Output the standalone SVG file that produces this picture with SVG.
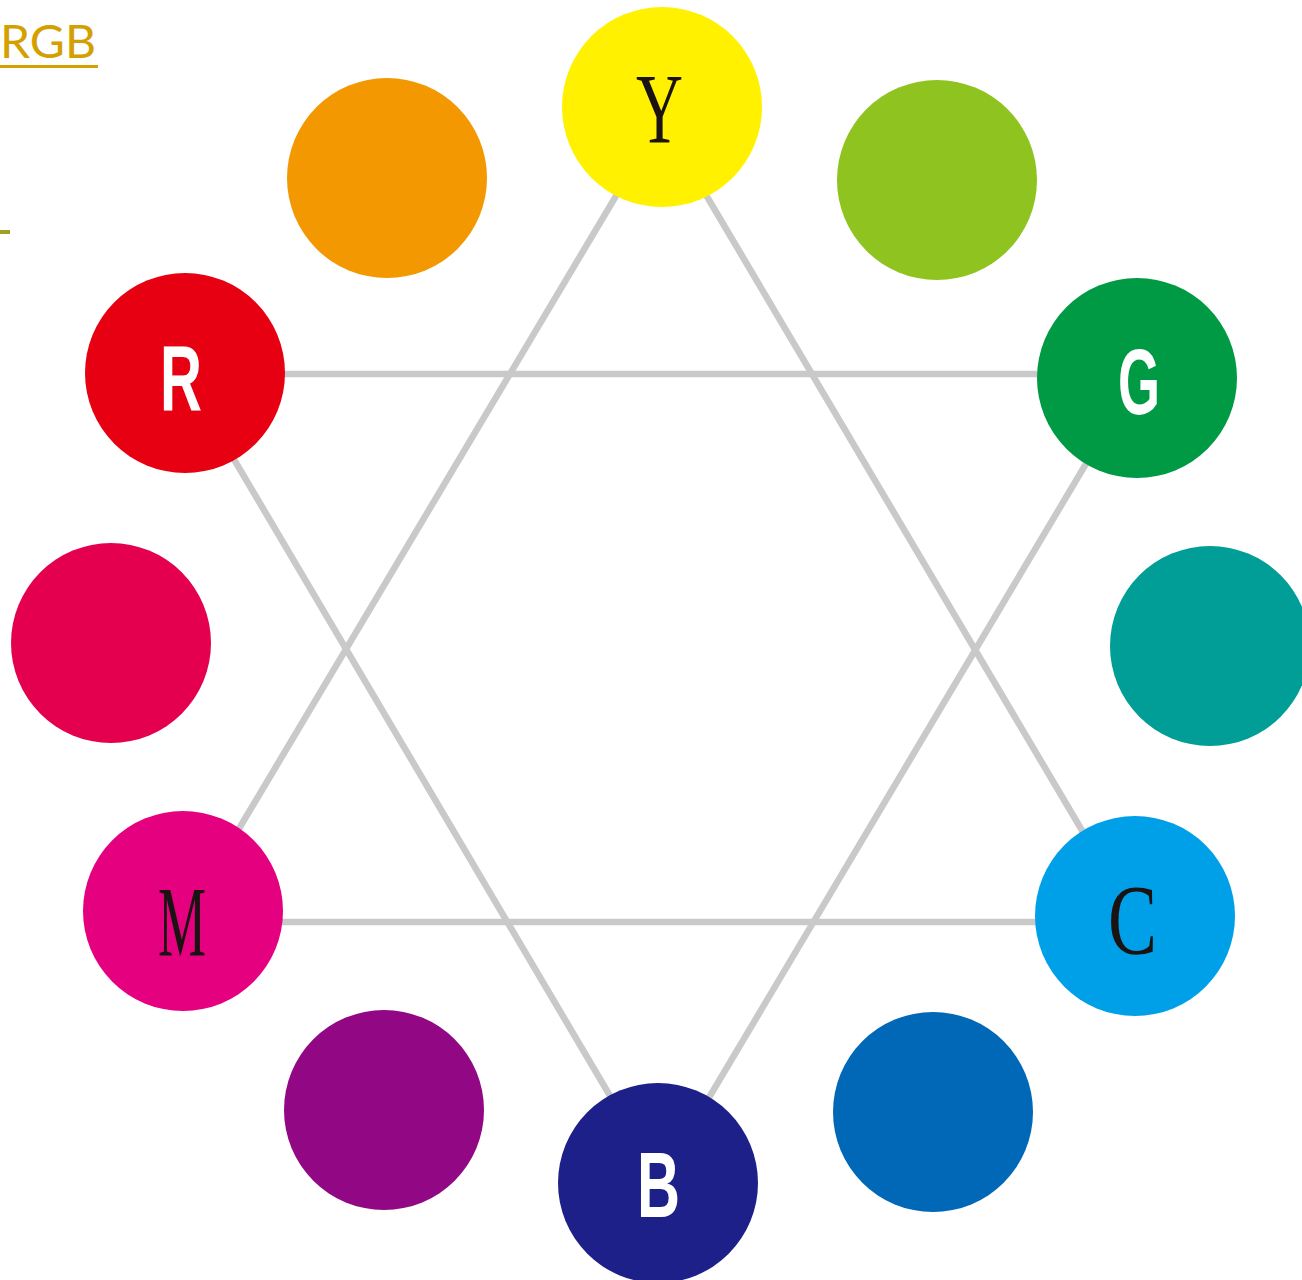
<svg xmlns="http://www.w3.org/2000/svg" width="1302" height="1280" viewBox="0 0 1302 1280">
<style>
.ln{stroke:#c9c9c9;stroke-width:6.5;fill:none}
.serif{font-family:"Liberation Serif","Times New Roman",serif;font-size:100px;fill:#1a1311}
.sans{font-family:"Liberation Sans",Arial,sans-serif;font-weight:bold;font-size:92px;fill:#ffffff}
</style>
<rect width="1302" height="1280" fill="#ffffff"/>
<g id="title">
<text x="0" y="58" font-family="Lato,'Open Sans',sans-serif" font-size="47" fill="#d4a000" textLength="96" lengthAdjust="spacingAndGlyphs">RGB</text>
<rect x="0" y="65" width="98" height="3" fill="#d4a000"/>
<rect x="0" y="230" width="10" height="4" fill="#a0a020"/>
</g>
<g id="connectors">
<line class="ln" x1="200" y1="374" x2="1130" y2="374"/>
<line class="ln" x1="190" y1="922" x2="1130" y2="922"/>
<line class="ln" x1="669" y1="107" x2="190" y2="911"/>
<line class="ln" x1="654" y1="107" x2="1135" y2="920"/>
<line class="ln" x1="183" y1="373" x2="655" y2="1172"/>
<line class="ln" x1="1137" y1="378" x2="660" y2="1180"/>
</g>
<g id="node-Y"><circle cx="662" cy="107" r="100" fill="#fff100"/><text class="serif" x="636" y="142" textLength="47" lengthAdjust="spacingAndGlyphs">Y</text></g>
<g id="node-orange"><circle cx="387" cy="178" r="100" fill="#f39800"/></g>
<g id="node-yellowgreen"><circle cx="937" cy="180" r="100" fill="#8fc31f"/></g>
<g id="node-R"><circle cx="185" cy="373" r="100" fill="#e60012"/><text class="sans" x="160" y="410" textLength="42" lengthAdjust="spacingAndGlyphs">R</text></g>
<g id="node-G"><circle cx="1137" cy="378" r="100" fill="#009944"/><text class="sans" x="1118" y="414" textLength="42" lengthAdjust="spacingAndGlyphs">G</text></g>
<g id="node-crimson"><circle cx="111" cy="643" r="100" fill="#e5004f"/></g>
<g id="node-teal"><circle cx="1210" cy="646" r="100" fill="#009e96"/></g>
<g id="node-M"><circle cx="183" cy="911" r="100" fill="#e4007f"/><text class="serif" x="158" y="955" textLength="48" lengthAdjust="spacingAndGlyphs">M</text></g>
<g id="node-C"><circle cx="1135" cy="916" r="100" fill="#00a0e9"/><text class="serif" x="1108" y="953" textLength="49" lengthAdjust="spacingAndGlyphs">C</text></g>
<g id="node-purple"><circle cx="384" cy="1110" r="100" fill="#920783"/></g>
<g id="node-blue"><circle cx="933" cy="1112" r="100" fill="#0068b7"/></g>
<g id="node-B"><circle cx="658" cy="1183" r="100" fill="#1d2088"/><text class="sans" x="637" y="1217" textLength="43" lengthAdjust="spacingAndGlyphs">B</text></g>
</svg>
